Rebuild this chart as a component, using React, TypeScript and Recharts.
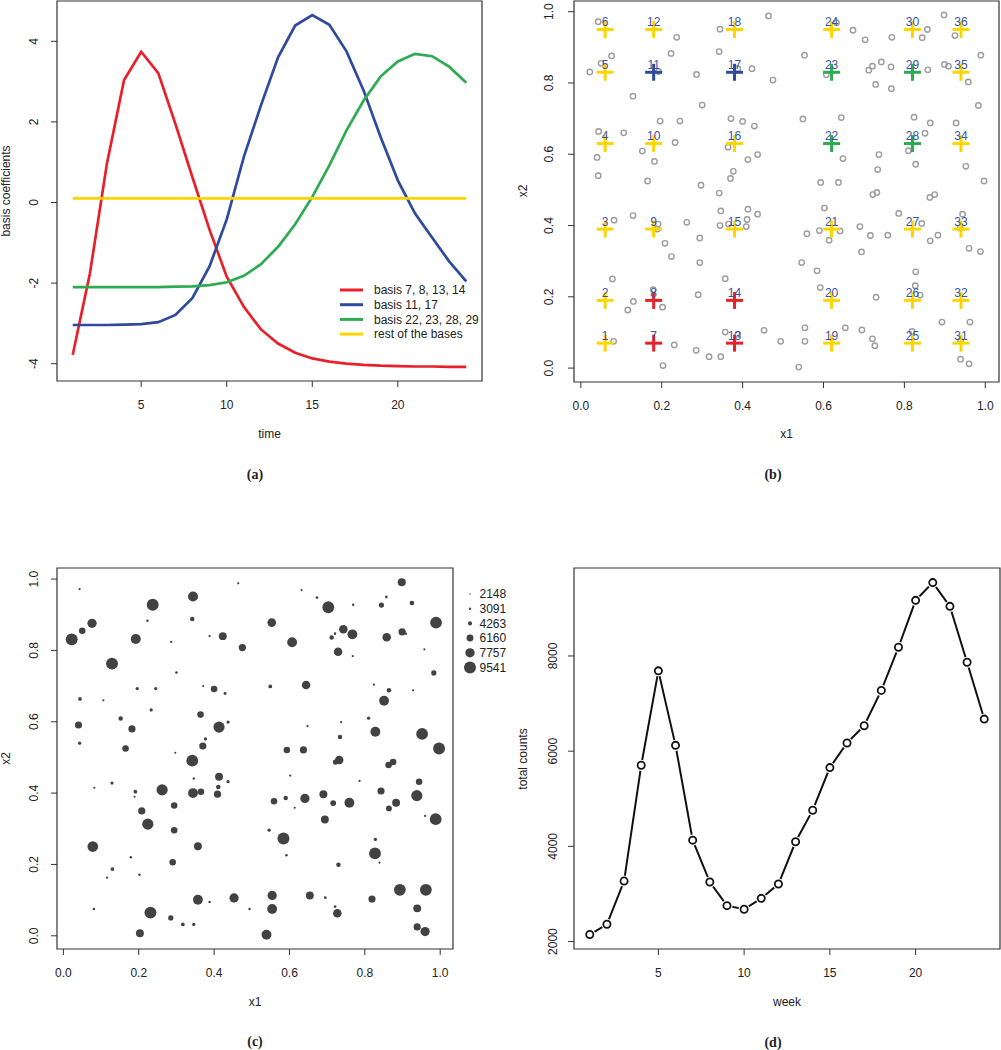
import React from 'react';
import { LineChart, Line, ScatterChart, Scatter, XAxis, YAxis, ReferenceArea } from 'recharts';

const SANS = '"Liberation Sans", Arial, Helvetica, sans-serif';
const SERIF = '"Liberation Serif", "Times New Roman", serif';
const INK = '#222';
const FRAME = '#333';

// ---- (a) basis coefficients over time ----
const timePoints = [1, 2, 3, 4, 5, 6, 7, 8, 9, 10, 11, 12, 13, 14, 15, 16, 17, 18, 19, 20, 21, 22, 23, 24];
const basisRed = [-3.78, -1.77, 0.97, 3.04, 3.74, 3.21, 1.95, 0.62, -0.68, -1.84, -2.59, -3.15, -3.5, -3.73, -3.87, -3.95, -4.0, -4.03, -4.05, -4.06, -4.07, -4.07, -4.08, -4.08];
const basisBlue = [-3.04, -3.04, -3.04, -3.03, -3.02, -2.97, -2.79, -2.37, -1.58, -0.42, 1.13, 2.41, 3.6, 4.39, 4.65, 4.41, 3.75, 2.78, 1.62, 0.55, -0.27, -0.87, -1.46, -1.96];
const basisGreen = [-2.1, -2.1, -2.1, -2.1, -2.1, -2.1, -2.09, -2.08, -2.05, -1.98, -1.82, -1.53, -1.1, -0.54, 0.14, 0.92, 1.79, 2.53, 3.13, 3.5, 3.69, 3.63, 3.37, 2.97];
const basisRest = [0.1, 0.1, 0.1, 0.1, 0.1, 0.1, 0.1, 0.1, 0.1, 0.1, 0.1, 0.1, 0.1, 0.1, 0.1, 0.1, 0.1, 0.1, 0.1, 0.1, 0.1, 0.1, 0.1, 0.1];

const RED = '#e8202a';
const BLUE = '#2f4a9c';
const GREEN = '#2eab52';
const YELLOW = '#ffd500';

const seriesA = [
  { key: 'red', name: 'basis 7, 8, 13, 14', color: RED, values: basisRed },
  { key: 'blue', name: 'basis 11, 17', color: BLUE, values: basisBlue },
  { key: 'green', name: 'basis 22, 23, 28, 29', color: GREEN, values: basisGreen },
  { key: 'rest', name: 'rest of the bases', color: YELLOW, values: basisRest },
];

// ---- (b)/(c) observation locations and their counts ----
const locX1 = [
  0.043, 0.464, 0.898, 0.344, 0.237, 0.632, 0.673, 0.703, 0.769, 0.844, 0.857, 0.925,
  0.022, 0.050, 0.076, 0.192, 0.223, 0.342, 0.286, 0.388, 0.423, 0.475, 0.553, 0.607,
  0.712, 0.721, 0.743, 0.767, 0.729, 0.768, 0.858, 0.899, 0.909, 0.989, 0.958, 0.129,
  0.300, 0.983, 0.044, 0.106, 0.196, 0.245, 0.233, 0.371, 0.400, 0.429, 0.549, 0.644,
  0.824, 0.864, 0.928, 0.851, 0.040, 0.043, 0.152, 0.182, 0.165, 0.364, 0.413, 0.437,
  0.377, 0.370, 0.297, 0.342, 0.648, 0.737, 0.734, 0.810, 0.828, 0.952, 0.997, 0.593,
  0.637, 0.722, 0.732, 0.863, 0.875, 0.602, 0.346, 0.413,
  0.082, 0.129, 0.191, 0.189, 0.262, 0.344, 0.365, 0.409, 0.411, 0.437, 0.208, 0.224,
  0.294, 0.294, 0.559, 0.590, 0.641, 0.614, 0.690, 0.716, 0.759, 0.694, 0.786, 0.843,
  0.864, 0.883, 0.938, 0.944, 0.960, 0.988, 0.078, 0.357, 0.546, 0.584, 0.592, 0.290,
  0.828, 0.827, 0.839, 0.730, 0.179, 0.130, 0.116, 0.202, 0.081, 0.357, 0.388, 0.453,
  0.494, 0.554, 0.554, 0.654, 0.695, 0.721, 0.727, 0.819, 0.893, 0.962, 0.939, 0.939,
  0.960, 0.231, 0.285, 0.317, 0.346, 0.203, 0.539,
];
const locX2 = [
  0.972, 0.988, 0.991, 0.951, 0.928, 0.969, 0.948, 0.921, 0.928, 0.927, 0.950, 0.933,
  0.831, 0.855, 0.876, 0.832, 0.883, 0.888, 0.824, 0.840, 0.840, 0.808, 0.878, 0.823,
  0.836, 0.847, 0.859, 0.845, 0.796, 0.784, 0.837, 0.852, 0.847, 0.878, 0.803, 0.763,
  0.738, 0.737, 0.664, 0.660, 0.693, 0.693, 0.633, 0.700, 0.692, 0.679, 0.699, 0.703,
  0.704, 0.688, 0.688, 0.659, 0.591, 0.540, 0.609, 0.580, 0.525, 0.620, 0.585, 0.599,
  0.552, 0.532, 0.513, 0.491, 0.588, 0.599, 0.557, 0.610, 0.572, 0.566, 0.525, 0.521,
  0.521, 0.487, 0.493, 0.479, 0.487, 0.449, 0.441, 0.446,
  0.415, 0.428, 0.404, 0.390, 0.409, 0.400, 0.404, 0.397, 0.417, 0.432, 0.350, 0.313,
  0.365, 0.296, 0.377, 0.386, 0.385, 0.359, 0.397, 0.372, 0.373, 0.326, 0.434, 0.406,
  0.357, 0.373, 0.393, 0.432, 0.336, 0.327, 0.250, 0.251, 0.296, 0.273, 0.226, 0.206,
  0.270, 0.231, 0.205, 0.199, 0.220, 0.187, 0.163, 0.171, 0.075, 0.101, 0.095, 0.106,
  0.075, 0.113, 0.075, 0.113, 0.107, 0.082, 0.063, 0.103, 0.129, 0.129, 0.077, 0.025,
  0.012, 0.065, 0.050, 0.032, 0.032, 0.007, 0.003,
];
const locCount = [
  3000, 3000, 6900, 8250, 9500, 3000, 3300, 9400, 3100, 5000, 3300, 4600,
  9500, 5900, 7700, 8200, 3100, 4500, 3100, 3000, 6800, 6400, 7300, 8100,
  4500, 3200, 7200, 8100, 7200, 3000, 7200, 6400, 3100, 9400, 2900, 9500,
  3200, 5000, 4000, 3000, 3700, 3700, 3700, 2900, 5900, 3500, 4000, 7200,
  3000, 4500, 3000, 8100, 6300, 3700, 4500, 6300, 5900, 5900, 9000, 3700,
  3700, 6300, 2900, 9400, 3000, 3000, 4500, 3700, 8100, 9400, 9500, 5900,
  6300, 5000, 7200, 5900, 5900, 3000, 3100, 6800,
  3000, 3700, 4000, 2900, 9000, 8100, 5900, 6300, 4500, 3700, 6300, 9000,
  5900, 5900, 5900, 4500, 7700, 2900, 6800, 5400, 8100, 6800, 3000, 6300,
  5400, 6800, 9000, 5900, 3000, 9400, 8600, 6800, 3700, 9500, 3200, 5900,
  3700, 9400, 2900, 4500, 3100, 4000, 3000, 3200, 3200, 8100, 3100, 7700,
  3100, 7700, 8100, 6800, 3300, 3300, 7200, 6300, 9400, 9400, 6800, 6300,
  7700, 9500, 5000, 4000, 3700, 6800, 8100,
];

// basis centres (6 x 6 grid), numbered column by column
const centerX1 = [0.06, 0.18, 0.38, 0.62, 0.82, 0.94];
const centerX2 = [0.07, 0.19, 0.39, 0.63, 0.83, 0.95];
const redBases = [7, 8, 13, 14];
const blueBases = [11, 17];
const greenBases = [22, 23, 28, 29];

// ---- (c) size legend ----
const sizeLegend = [2148, 3091, 4263, 6160, 7757, 9541];

// ---- (d) weekly totals ----
const weekTotals = [2148, 2363, 3271, 5703, 7687, 6122, 4131, 3251, 2755, 2678, 2908, 3209, 4096, 4760, 5655, 6172, 6535, 7276, 8183, 9168, 9541, 9042, 7868, 6674];

const rowsA = timePoints.map((t, i) => {
  const r: any = { t };
  seriesA.forEach((s) => { r[s.key] = s.values[i]; });
  return r;
});
const locPoints = locX1.map((x, i) => ({ x, y: locX2[i], n: locCount[i] }));
const centers = centerX1.flatMap((cx, i) => centerX2.map((cy, j) => ({ x: cx, y: cy, id: i * 6 + j + 1 })));
const rowsD = timePoints.map((t, i) => ({ t, total: weekTotals[i] }));

const crossColor = (id: number) =>
  redBases.includes(id) ? RED : blueBases.includes(id) ? BLUE : greenBases.includes(id) ? GREEN : YELLOW;

const bubbleR = (n: number) => Math.max(0.7, (n - 1500) / 1340);

const f1 = (v: number) => v.toFixed(1);
const f0 = (v: number) => String(v);

const xTick = (fmt: (v: number) => string) => (p: any) => (
  <text x={p.x} y={p.y + 22} textAnchor="middle" fontSize={12} fontFamily={SANS} fill={INK}>
    {fmt(p.payload.value)}
  </text>
);
const yTick = (fmt: (v: number) => string, off: number) => (p: any) => (
  <text transform={`translate(${p.x - off},${p.y}) rotate(-90)`} textAnchor="middle" fontSize={12} fontFamily={SANS} fill={INK}>
    {fmt(p.payload.value)}
  </text>
);

const tickLineStyle = { stroke: FRAME, strokeWidth: 1 };
const UNIT_DOM: [number, number] = [-0.017, 1.034];
const UNIT_DOM_Y: [number, number] = [-0.037, 1.031];
const UNIT_TICKS = [0, 0.2, 0.4, 0.6, 0.8, 1.0];
const WEEK_DOM: [number, number] = [0.08, 24.92];

const Cross = (p: any) => {
  const c = crossColor(p.payload.id);
  return (
    <g>
      <line x1={p.cx - 8.5} x2={p.cx + 8.5} y1={p.cy} y2={p.cy} stroke={c} strokeWidth={3} />
      <line x1={p.cx} x2={p.cx} y1={p.cy - 8.5} y2={p.cy + 8.5} stroke={c} strokeWidth={3} />
    </g>
  );
};

const CrossLabel = (p: any) => (
  <text x={p.cx} y={p.cy - 3.5} textAnchor="middle" fontSize={12} fontFamily={SANS} fill="#3a52a8">
    {p.payload.id}
  </text>
);

const pos = (left: number, top: number): React.CSSProperties => ({ position: 'absolute', left, top });

export default function App() {
  return (
    <div style={{ position: 'absolute', left: 0, top: 0, width: 1001, height: 1050, background: '#fff' }}>
      {/* (a) */}
      <div style={pos(0, 0)}>
        <LineChart width={500} height={500} data={rowsA} margin={{ top: 1, right: 18, bottom: 0, left: 0 }}>
          <XAxis type="number" dataKey="t" domain={WEEK_DOM} allowDataOverflow ticks={[5, 10, 15, 20]} interval={0}
            axisLine={false} tickLine={tickLineStyle} tickSize={6} tickMargin={0} height={119} tick={xTick(f0)} />
          <YAxis type="number" domain={[-4.43, 5.0]} allowDataOverflow ticks={[-4, -2, 0, 2, 4]} interval={0}
            axisLine={false} tickLine={tickLineStyle} tickSize={6} tickMargin={0} width={57} tick={yTick(f0, 13)} />
          <ReferenceArea x1={WEEK_DOM[0]} x2={WEEK_DOM[1]} y1={-4.43} y2={5.0} fill="none" stroke={FRAME} strokeWidth={1.2} ifOverflow="visible" />
          {seriesA.map((s) => (
            <Line key={s.key} type="linear" dataKey={s.key} name={s.name} stroke={s.color} strokeWidth={2.7}
              dot={false} isAnimationActive={false} />
          ))}
        </LineChart>
      </div>

      {/* (b) */}
      <div style={pos(500, 0)}>
        <ScatterChart width={501} height={500} margin={{ top: 1, right: 2, bottom: 0, left: 0 }}>
          <XAxis type="number" dataKey="x" domain={UNIT_DOM} allowDataOverflow ticks={UNIT_TICKS} interval={0}
            axisLine={false} tickLine={tickLineStyle} tickSize={6} tickMargin={0} height={118} tick={xTick(f1)} />
          <YAxis type="number" dataKey="y" domain={[-0.039, 1.03]} allowDataOverflow ticks={UNIT_TICKS} interval={0}
            axisLine={false} tickLine={tickLineStyle} tickSize={6} tickMargin={0} width={74} tick={yTick(f1, 15)} />
          <ReferenceArea x1={UNIT_DOM[0]} x2={UNIT_DOM[1]} y1={-0.039} y2={1.03} fill="none" stroke={FRAME} strokeWidth={1.2} ifOverflow="visible" />
          <Scatter data={locPoints} isAnimationActive={false}
            shape={(p: any) => <circle cx={p.cx} cy={p.cy} r={2.7} fill="none" stroke="#9c9c9c" strokeWidth={1.4} />} />
          <Scatter data={centers} isAnimationActive={false} shape={Cross} />
          <Scatter data={centers} isAnimationActive={false} shape={CrossLabel} />
        </ScatterChart>
      </div>

      {/* (c) */}
      <div style={pos(0, 540)}>
        <ScatterChart width={500} height={510} margin={{ top: 28, right: 47, bottom: 0, left: 0 }}>
          <XAxis type="number" dataKey="x" domain={UNIT_DOM} allowDataOverflow ticks={UNIT_TICKS} interval={0}
            axisLine={false} tickLine={tickLineStyle} tickSize={6} tickMargin={0} height={101} tick={xTick(f1)} />
          <YAxis type="number" dataKey="y" domain={UNIT_DOM_Y} allowDataOverflow ticks={UNIT_TICKS} interval={0}
            axisLine={false} tickLine={tickLineStyle} tickSize={6} tickMargin={0} width={57} tick={yTick(f1, 13)} />
          <ReferenceArea x1={UNIT_DOM[0]} x2={UNIT_DOM[1]} y1={UNIT_DOM_Y[0]} y2={UNIT_DOM_Y[1]} fill="none" stroke={FRAME} strokeWidth={1.2} ifOverflow="visible" />
          <Scatter data={locPoints} isAnimationActive={false}
            shape={(p: any) => <circle cx={p.cx} cy={p.cy} r={bubbleR(p.payload.n)} fill="#424242" />} />
        </ScatterChart>
      </div>

      {/* (d) */}
      <div style={pos(500, 540)}>
        <LineChart width={501} height={510} data={rowsD} margin={{ top: 28, right: 1, bottom: 0, left: 0 }}>
          <XAxis type="number" dataKey="t" domain={WEEK_DOM} allowDataOverflow ticks={[5, 10, 15, 20]} interval={0}
            axisLine={false} tickLine={tickLineStyle} tickSize={6} tickMargin={0} height={101} tick={xTick(f0)} />
          <YAxis type="number" domain={[1844, 9848]} allowDataOverflow ticks={[2000, 4000, 6000, 8000]} interval={0}
            axisLine={false} tickLine={tickLineStyle} tickSize={6} tickMargin={0} width={74} tick={yTick(f0, 11)} />
          <ReferenceArea x1={WEEK_DOM[0]} x2={WEEK_DOM[1]} y1={1844} y2={9848} fill="none" stroke={FRAME} strokeWidth={1.2} ifOverflow="visible" />
          <Line type="linear" dataKey="total" stroke="#111" strokeWidth={2} isAnimationActive={false}
            dot={(p: any) => (
              <g key={`d${p.index}`}>
                <circle cx={p.cx} cy={p.cy} r={5.6} fill="#fff" />
                <circle cx={p.cx} cy={p.cy} r={3.6} fill="#fff" stroke="#111" strokeWidth={1.8} />
              </g>
            )} />
        </LineChart>
      </div>

      {/* titles, captions and legends */}
      <svg width={1001} height={1050} style={{ position: 'absolute', left: 0, top: 0, pointerEvents: 'none' }}
        fontFamily={SANS} fontSize={12} fill={INK}>
        <text transform="translate(10,191) rotate(-90)" textAnchor="middle">basis coefficients</text>
        <text x={269.5} y={438} textAnchor="middle">time</text>
        <text x={255} y={479} textAnchor="middle" fontFamily={SERIF} fontWeight="bold" fontSize={14}>(a)</text>

        <text transform="translate(527,191) rotate(-90)" textAnchor="middle">x2</text>
        <text x={786.5} y={438} textAnchor="middle">x1</text>
        <text x={773} y={479} textAnchor="middle" fontFamily={SERIF} fontWeight="bold" fontSize={14}>(b)</text>

        <text transform="translate(10,758.5) rotate(-90)" textAnchor="middle">x2</text>
        <text x={255} y={1006} textAnchor="middle">x1</text>
        <text x={255} y={1046} textAnchor="middle" fontFamily={SERIF} fontWeight="bold" fontSize={14}>(c)</text>

        <text transform="translate(527,759) rotate(-90)" textAnchor="middle">total counts</text>
        <text x={787} y={1006} textAnchor="middle">week</text>
        <text x={773} y={1047} textAnchor="middle" fontFamily={SERIF} fontWeight="bold" fontSize={14}>(d)</text>

        {seriesA.map((s, i) => (
          <g key={s.key}>
            <line x1={340} x2={363} y1={290 + i * 14.7} y2={290 + i * 14.7} stroke={s.color} strokeWidth={3} />
            <text x={374} y={294.3 + i * 14.7}>{s.name}</text>
          </g>
        ))}

        {sizeLegend.map((n, i) => (
          <g key={n}>
            <circle cx={470} cy={594 + i * 14.7} r={bubbleR(n)} fill="#424242" />
            <text x={479.5} y={598.3 + i * 14.7}>{n}</text>
          </g>
        ))}
      </svg>
    </div>
  );
}
